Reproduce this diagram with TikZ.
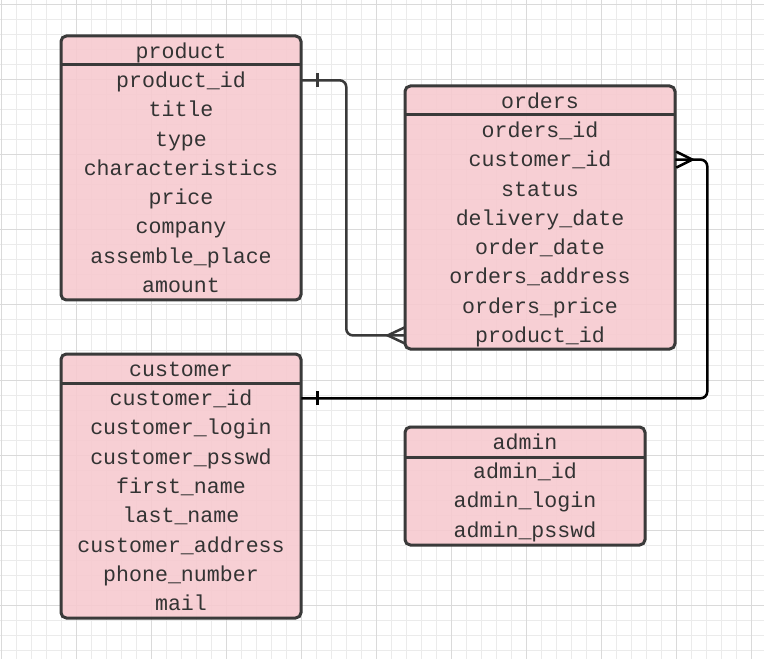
\documentclass[tikz,border=0pt]{standalone}
\usepackage{fontspec}
\setmonofont{Liberation Mono}
\usetikzlibrary{calc}
\definecolor{erpink}{HTML}{F7C9CF}
\definecolor{erline}{HTML}{3A3A3A}
\definecolor{ertext}{HTML}{333333}
\definecolor{gridminor}{HTML}{EBEBEB}
\definecolor{gridmajor}{HTML}{DADADA}
\tikzset{
  tbox/.style={draw=erline, line width=2.25pt, rounded corners=4pt, fill=erpink, fill opacity=0.88},
  tline/.style={draw=erline, line width=2.25pt},
  field/.style={font=\ttfamily\fontsize{16.2}{18}\selectfont, text=ertext, inner sep=0pt, text height=14.6pt, text depth=3.8pt, minimum width=#1},
  field/.default=180pt,
  conn/.style={draw=erline, line width=1.9pt},
  connb/.style={draw=black, line width=1.9pt}
}
\begin{document}
\begin{tikzpicture}[x=0.75pt,y=-0.75pt]
  \useasboundingbox[fill=white] (0,0) rectangle (764,659);
  % grid
  \foreach \x in {1,16,...,751} \draw[gridminor,line width=0.75pt] (\x,0) -- (\x,659);
  \foreach \y in {5,20,...,650} \draw[gridminor,line width=0.75pt] (0,\y) -- (764,\y);
  \foreach \x in {1,76,...,751} \draw[gridmajor,line width=0.75pt] (\x,0) -- (\x,659);
  \foreach \y in {5,80,...,605} \draw[gridmajor,line width=0.75pt] (0,\y) -- (764,\y);

  % product
  \draw[tbox] (61,36) rectangle (301,300);
  \draw[tline] (61,65) -- (301,65);
  \node[field] (product) at (181,51) {product};
  \foreach \name [count=\i] in {product\_id,title,type,characteristics,price,company,assemble\_place,amount}
    \node[field] (prod\i) at (181,{51+29.3*\i}) {\name};

  % orders
  \draw[tbox] (405,86) rectangle (675,349);
  \draw[tline] (405,115) -- (675,115);
  \node[field=202.5pt] (orders) at (540,101) {orders};
  \foreach \name [count=\i] in {orders\_id,customer\_id,status,delivery\_date,order\_date,orders\_address,orders\_price,product\_id}
    \node[field=202.5pt] (ord\i) at (540,{101+29.3*\i}) {\name};

  % customer
  \draw[tbox] (61,354) rectangle (301,618);
  \draw[tline] (61,383) -- (301,383);
  \node[field] (customer) at (181,369) {customer};
  \foreach \name [count=\i] in {customer\_id,customer\_login,customer\_psswd,first\_name,last\_name,customer\_address,phone\_number,mail}
    \node[field] (cust\i) at (181,{369+29.3*\i}) {\name};

  % admin
  \draw[tbox] (405,427) rectangle (645,545);
  \draw[tline] (405,457) -- (645,457);
  \node[field] (admin) at (525,442) {admin};
  \foreach \name [count=\i] in {admin\_id,admin\_login,admin\_psswd}
    \node[field] (adm\i) at (525,{442+29.3*\i}) {\name};

  % product -> orders
  \draw[conn,rounded corners=5pt] (prod1.east) -- ++(45,0) |- (ord8.west);
  \draw[conn] ($(prod1.east)+(16,-7)$) -- ($(prod1.east)+(16,7)$);
  \draw[conn] ($(ord8.west)+(0,-8)$) -- ($(ord8.west)+(-17,0)$) -- ($(ord8.west)+(0,8)$);

  % customer -> orders
  \draw[connb,rounded corners=5pt] (cust1.east) -- ++(406,0) |- (ord2.east);
  \draw[connb] ($(cust1.east)+(16,-7)$) -- ($(cust1.east)+(16,7)$);
  \draw[connb] ($(ord2.east)+(1,-8)$) -- ($(ord2.east)+(17,0)$) -- ($(ord2.east)+(1,8)$);
\end{tikzpicture}
\end{document}
